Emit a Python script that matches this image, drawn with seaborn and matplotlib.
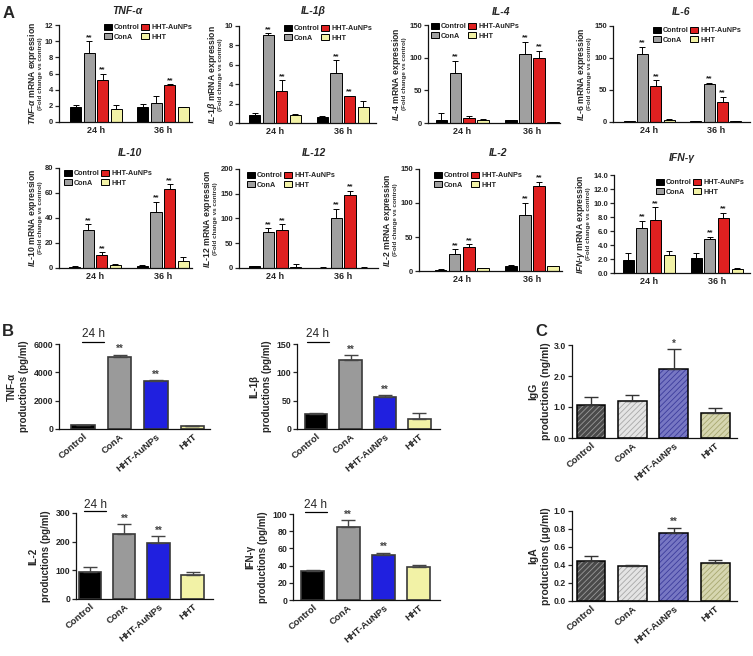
import numpy as np
import pandas as pd
import matplotlib
matplotlib.use("Agg")
import matplotlib.pyplot as plt
import seaborn as sns
from matplotlib.lines import Line2D

groups = ["Control", "ConA", "HHT-AuNPs", "HHT"]
times = ["24 h", "36 h"]

# ---- panel A : mRNA expression (fold change vs control), rows = 24 h / 36 h
tnf_mean = [[1.8, 8.5, 5.2, 1.6], [1.8, 2.4, 4.6, 1.85]]
tnf_err = [[0.3, 1.5, 0.8, 0.45], [0.4, 0.8, 0.05, 0.05]]
tnf_sig = [["", "**", "**", ""], ["", "", "**", ""]]

il1b_mean = [[0.8, 9.1, 3.3, 0.85], [0.6, 5.2, 2.75, 1.6]]
il1b_err = [[0.2, 0.15, 1.1, 0.1], [0.15, 1.25, 0.05, 0.7]]
il1b_sig = [["", "**", "**", ""], ["", "**", "**", ""]]

il4_mean = [[5, 77, 8, 5], [4, 106, 100, 1]]
il4_err = [[11, 18, 2, 0.5], [1, 18, 10, 0.5]]
il4_sig = [["", "**", "", ""], ["", "**", "**", ""]]

il6_mean = [[1, 107, 57, 3], [1, 60, 31, 1]]
il6_err = [[0.3, 10, 8, 1], [0.3, 1.5, 8, 0.3]]
il6_sig = [["", "**", "**", ""], ["", "**", "**", ""]]

il10_mean = [[1, 30.5, 10, 2], [1.5, 45, 63, 5.5]]
il10_err = [[0.3, 4.5, 2.5, 1], [0.5, 8, 4, 3]]
il10_sig = [["", "**", "**", ""], ["", "**", "**", ""]]

il12_mean = [[4, 72, 76, 2], [1, 100, 147, 1]]
il12_err = [[1, 8, 12, 6], [0.3, 20, 9, 0.5]]
il12_sig = [["", "**", "**", ""], ["", "**", "**", ""]]

il2_mean = [[2, 25, 35, 4], [8, 82, 125, 7]]
il2_err = [[1, 7, 4, 1], [1, 18, 6, 1]]
il2_sig = [["", "**", "**", ""], ["", "**", "**", ""]]

ifng_mean = [[1.9, 6.5, 7.6, 2.6], [2.1, 4.9, 7.9, 0.6]]
ifng_err = [[0.9, 1.0, 1.8, 0.5], [0.8, 0.3, 0.7, 0.1]]
ifng_sig = [["", "**", "**", ""], ["", "**", "**", ""]]

# ---- panel B : cytokine productions at 24 h
b_tnf_mean = [250, 5050, 3380, 220]
b_tnf_err = [30, 200, 80, 20]
b_il1b_mean = [26, 121, 57, 18]
b_il1b_err = [3, 10, 3, 10]
b_il2_mean = [95, 227, 195, 82]
b_il2_err = [15, 35, 25, 12]
b_ifng_mean = [34, 85, 52, 38]
b_ifng_err = [1, 8, 3, 3]
b_sig = ["", "**", "**", ""]

# ---- panel C : immunoglobulins
c_igg_mean = [1.08, 1.2, 2.22, 0.8]
c_igg_err = [0.25, 0.2, 0.65, 0.18]
c_igg_sig = ["", "", "*", ""]
c_iga_mean = [0.45, 0.39, 0.76, 0.42]
c_iga_err = [0.045, 0.015, 0.055, 0.04]
c_iga_sig = ["", "", "**", ""]

colors_a = ["#000000", "#a0a0a0", "#ff0000", "#ffff99"]
colors_b = ["#000000", "#9a9a9a", "#0000ff", "#ffff99"]
colors_c = ["#4a4a4a", "#e4e4e4", "#6a6ad0", "#dcdcaa"]
hatch_c = ["#9a9a9a", "#a8a8a8", "#3c3c9c", "#a8a870"]

sns.set_style("ticks")
plt.rcParams["font.family"] = ["Liberation Sans", "DejaVu Sans"]
plt.rcParams.update({
    "mathtext.fontset": "custom",
    "mathtext.it": "Liberation Sans:italic:bold",
    "mathtext.rm": "Liberation Sans:bold",
    "mathtext.bf": "Liberation Sans:bold",
    "hatch.linewidth": 0.6,
    "axes.linewidth": 0.9,
    "axes.edgecolor": "#111111",
})

W, H = 753, 656
fig = plt.figure(figsize=(W / 100, H / 100), dpi=100)


def add_box(l, t, r, b):
    return fig.add_axes([l / W, 1 - b / H, (r - l) / W, (b - t) / H])


def fx(px):
    return px / W


def fy(py):
    return 1 - py / H


def style_axis(ax, ylim, yticks, fmt, tick_fs):
    sns.despine(ax=ax)
    ax.set_ylim(*ylim)
    ax.set_yticks(yticks)
    ax.set_yticklabels([fmt % v for v in yticks], fontsize=tick_fs, fontweight="bold")
    ax.tick_params(axis="y", length=3, width=0.9, pad=1.2, direction="out")
    ax.tick_params(axis="x", length=0, pad=3)
    ax.set_xlabel("")
    ax.set_ylabel("")


def draw_mrna(ax, mean, err, sig, ylim, yticks, fmt, xlim, legpos):
    rows = []
    for i, t in enumerate(times):
        for j, g in enumerate(groups):
            rows.append((t, g, mean[i][j]))
    df = pd.DataFrame(rows, columns=["time", "group", "value"])
    sns.barplot(data=df, x="time", y="value", hue="group", order=times,
                hue_order=groups, palette=colors_a, width=0.8, gap=0.18,
                edgecolor="black", linewidth=0.7, errorbar=None, ax=ax)
    leg = ax.get_legend()
    handles = leg.legend_handles
    labels = [t.get_text() for t in leg.get_texts()]
    ax.legend(handles, labels, ncol=2, loc="upper left",
              bbox_to_anchor=(fx(legpos[0]), fy(legpos[1])), bbox_transform=fig.transFigure,
              frameon=False, prop={"size": 5.2, "weight": "bold"},
              handlelength=1.1, handleheight=0.8, handletextpad=0.25,
              columnspacing=0.25, labelspacing=0.3, borderpad=0.0, borderaxespad=0.0)
    conts = list(ax.containers)
    for j, cont in enumerate(conts):
        xs = [b.get_x() + b.get_width() / 2 for b in cont]
        ys = [b.get_height() for b in cont]
        es = [err[i][j] for i in range(len(times))]
        ax.errorbar(xs, ys, yerr=[np.zeros(len(es)), es], fmt="none", ecolor="black",
                    elinewidth=0.7, capsize=2.2, capthick=0.7)
        for i, (x, y, e) in enumerate(zip(xs, ys, es)):
            if sig[i][j]:
                ax.annotate(sig[i][j], (x, y + e), xytext=(0, 0.3), textcoords="offset points",
                            ha="center", va="bottom", fontsize=6, fontweight="bold", color="#222222")
    style_axis(ax, ylim, yticks, fmt, 5.5)
    ax.set_xlim(*xlim)
    ax.set_xticks(range(len(times)))
    ax.set_xticklabels(times, fontsize=6.5, fontweight="bold")


def draw_prod(ax, mean, err, sig, palette, ylim, yticks, fmt, xlim, width, hatched=False):
    df = pd.DataFrame({"group": groups, "value": mean})
    if hatched:
        sns.barplot(data=df, x="group", y="value", hue="group", order=groups,
                    hue_order=groups, palette=palette, legend=False, width=width,
                    linewidth=0, errorbar=None, ax=ax)
        for j, cont in enumerate(ax.containers):
            for b in cont:
                b.set_hatch("//////")
                b.set_edgecolor(hatch_c[j])
                b.set_linewidth(0)
        sns.barplot(data=df, x="group", y="value", order=groups, color="black",
                    fill=False, width=width, linewidth=1.1, errorbar=None, ax=ax)
        conts = list(ax.containers)[:len(groups)]
        ecol = "#333333"
    else:
        sns.barplot(data=df, x="group", y="value", hue="group", order=groups,
                    hue_order=groups, palette=palette, legend=False, width=width,
                    edgecolor="#3a3a3a", linewidth=1.2, errorbar=None, ax=ax)
        conts = list(ax.containers)
        ecol = "#444444"
    xs, ys = [], []
    for cont in conts:
        for b in cont:
            xs.append(b.get_x() + b.get_width() / 2)
            ys.append(b.get_height())
    ax.errorbar(xs, ys, yerr=[np.zeros(len(err)), err], fmt="none", ecolor=ecol,
                elinewidth=1.0, capsize=5, capthick=1.0)
    for x, y, e, s in zip(xs, ys, err, sig):
        if s:
            ax.annotate(s, (x, y + e), xytext=(0, 0.3), textcoords="offset points",
                        ha="center", va="bottom", fontsize=7, fontweight="bold", color="#444444")
    style_axis(ax, ylim, yticks, fmt, 6.3)
    ax.set_xlim(*xlim)
    ax.set_xticks(range(len(groups)))
    ax.set_xticklabels(groups, fontsize=6.8, fontweight="bold", rotation=40,
                       ha="right", rotation_mode="anchor")
    ax.tick_params(axis="x", pad=2)


# ------------------------- panel A -------------------------
a_panels = [
    (tnf_mean, tnf_err, tnf_sig, "TNF-α", "TNF", "α", (0, 12), [0, 2, 4, 6, 8, 10, 12], "%d",
     (59, 25, 192, 122), (-0.55, 1.43), (127, 11), (104, 24)),
    (il1b_mean, il1b_err, il1b_sig, "IL-1β", "IL", "1β", (0, 10), [0, 2, 4, 6, 8, 10], "%d",
     (239, 26, 376, 123), (-0.53, 1.49), (313, 11), (284, 25)),
    (il4_mean, il4_err, il4_sig, "IL-4", "IL", "4", (0, 150), [0, 50, 100, 150], "%d",
     (428, 25, 560, 123), (-0.49, 1.40), (501, 12), (431, 23)),
    (il6_mean, il6_err, il6_sig, "IL-6", "IL", "6", (0, 150), [0, 50, 100, 150], "%d",
     (613, 26, 750, 122), (-0.54, 1.51), (681, 12), (653, 27)),
    (il10_mean, il10_err, il10_sig, "IL-10", "IL", "10", (0, 80), [0, 20, 40, 60, 80], "%d",
     (59, 168, 192, 268), (-0.53, 1.43), (130, 153), (64, 170)),
    (il12_mean, il12_err, il12_sig, "IL-12", "IL", "12", (0, 200), [0, 50, 100, 150, 200], "%d",
     (239, 169, 378, 268), (-0.53, 1.51), (314, 153), (247, 172)),
    (il2_mean, il2_err, il2_sig, "IL-2", "IL", "2", (0, 150), [0, 50, 100, 150], "%d",
     (419, 169, 562, 271), (-0.61, 1.43), (498, 153), (434, 172)),
    (ifng_mean, ifng_err, ifng_sig, "IFN-γ", "IFN", "γ", (0, 14), [0, 2, 4, 6, 8, 10, 12, 14], "%.1f",
     (614, 175, 750, 273), (-0.51, 1.49), (682, 158), (656, 179)),
]

a_axes = []
for (mean, err, sig, title, g1, g2, ylim, yticks, fmt, bx, xlim, tpos, legpos) in a_panels:
    ax = add_box(*bx)
    draw_mrna(ax, mean, err, sig, ylim, yticks, fmt, xlim, legpos)
    fig.text(fx(tpos[0]), fy(tpos[1]), title, ha="center", va="center",
             fontsize=7.5, fontweight="bold", fontstyle="italic")
    a_axes.append((ax, g1, g2, bx))

# ------------------------- panel B -------------------------
b_panels = [
    (b_tnf_mean, b_tnf_err, "TNF-α\nproductions (pg/ml)", (0, 6000), [0, 2000, 4000, 6000],
     (59, 344, 210, 429), (-0.66, 3.48), (93, 334)),
    (b_il1b_mean, b_il1b_err, "IL-1β\nproductions (pg/ml)", (0, 150), [0, 50, 100, 150],
     (297, 344, 440, 429), (-0.56, 3.6), (318, 334)),
    (b_il2_mean, b_il2_err, "IL-2\nproductions (pg/ml)", (0, 300), [0, 100, 200, 300],
     (76, 513, 213, 599), (-0.42, 3.6), (95, 505)),
    (b_ifng_mean, b_ifng_err, "IFN-γ\nproductions (pg/ml)", (0, 100), [0, 20, 40, 60, 80, 100],
     (293, 514, 440, 600), (-0.56, 3.6), (316, 505)),
]

for (mean, err, ylab, ylim, yticks, bx, xlim, hpos) in b_panels:
    ax = add_box(*bx)
    draw_prod(ax, mean, err, b_sig, colors_b, ylim, yticks, "%d", xlim, 0.65)
    ax.set_ylabel(ylab, fontsize=7, fontweight="bold", linespacing=1.35, labelpad=3)
    fig.text(fx(hpos[0]), fy(hpos[1]), "24 h", ha="center", va="center", fontsize=8.5)
    fig.add_artist(Line2D([fx(hpos[0] - 11), fx(hpos[0] + 11)], [fy(bx[1] - 2), fy(bx[1] - 2)],
                          color="black", lw=0.9))

# ------------------------- panel C -------------------------
c_panels = [
    (c_igg_mean, c_igg_err, c_igg_sig, "IgG\nproductions (ng/ml)", (0, 3), [0, 1, 2, 3], "%.1f",
     (572, 345, 737, 438)),
    (c_iga_mean, c_iga_err, c_iga_sig, "IgA\nproductions (μg/ml)", (0, 1), [0, 0.2, 0.4, 0.6, 0.8, 1.0], "%.1f",
     (572, 511, 737, 601)),
]

for (mean, err, sig, ylab, ylim, yticks, fmt, bx) in c_panels:
    ax = add_box(*bx)
    draw_prod(ax, mean, err, sig, colors_c, ylim, yticks, fmt, (-0.46, 3.53), 0.7, hatched=True)
    ax.set_ylabel(ylab, fontsize=7.5, fontweight="bold", linespacing=1.3, labelpad=2)

# two-line y labels of panel A, placed left of the tick labels
fig.canvas.draw()
renderer = fig.canvas.get_renderer()
for ax, g1, g2, bx in a_axes:
    left = min(t.get_window_extent(renderer).x0 for t in ax.get_yticklabels())
    yc = fy((bx[1] + bx[3]) / 2)
    fig.text((left - 4.5) / W, yc, "(Fold change vs control)", rotation=90, ha="center",
             va="center", fontsize=4.5, fontweight="bold", color="#333333")
    fig.text((left - 12.5) / W, yc, "$\\mathit{%s}$-$\\mathit{%s}$ mRNA expression" % (g1, g2),
             rotation=90, ha="center", va="center", fontsize=6.2, fontweight="bold")

# panel letters
fig.text(fx(9), fy(14), "A", ha="center", va="center", fontsize=12, fontweight="bold")
fig.text(fx(8), fy(332), "B", ha="center", va="center", fontsize=12, fontweight="bold")
fig.text(fx(541), fy(332), "C", ha="center", va="center", fontsize=12, fontweight="bold")

fig.savefig("out.png", dpi=100, facecolor="white")
